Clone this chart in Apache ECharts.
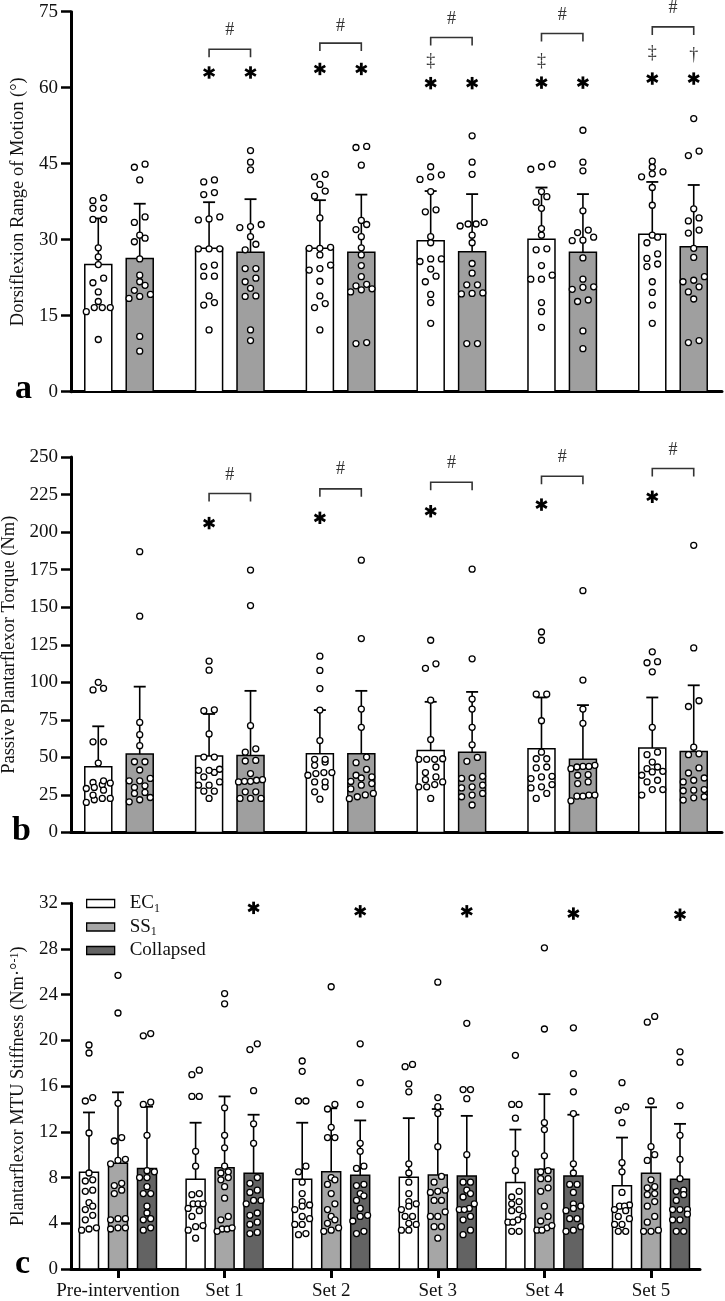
<!DOCTYPE html>
<html><head><meta charset="utf-8">
<script src="https://cdn.jsdelivr.net/npm/echarts@6/dist/echarts.min.js"></script>
<style>html,body{margin:0;padding:0;background:#fff}#c{width:725px;height:1301px}</style>
</head><body><div id="c"></div>
<script>
// ---------- DATA ----------
const categories = ['Pre-intervention','Set 1','Set 2','Set 3','Set 4','Set 5'];

// Panel a: Dorsiflexion range of motion (deg)
const romEC_mean = [25.1, 28.3, 28.3, 29.8, 30.1, 31.1];
const romEC_sd   = [9.1, 9.1, 9.5, 9.8, 10.2, 10.3];
const romSS_mean = [26.3, 27.5, 27.5, 27.6, 27.5, 28.6];
const romSS_sd   = [10.8, 10.5, 11.4, 11.4, 11.5, 12.2];
const romEC_pts = [
  [38.3,37.7,36.2,36.2,34.0,34.0,28.4,26.6,25.1,22.4,21.5,19.7,17.8,16.6,16.6,16.6,15.8,10.3],
  [41.4,41.8,38.9,39.3,33.9,34.1,34.5,28.2,28.2,28.2,24.7,25.0,22.8,22.8,18.9,17.6,17.1,12.2],
  [42.4,42.9,40.9,39.6,38.6,34.3,28.3,28.3,28.5,27.0,25.0,24.0,24.3,21.8,18.9,17.4,16.6,12.2],
  [44.4,41.9,42.4,42.8,39.5,35.5,35.9,30.6,29.4,25.7,26.2,26.2,24.2,22.8,21.7,19.2,17.6,13.5],
  [44.4,43.9,44.9,39.5,38.5,37.4,36.2,32.2,30.9,28.2,28.0,24.9,22.2,23.0,22.2,17.6,15.8,12.7],
  [44.3,45.5,43.4,43.0,42.4,40.3,36.8,30.9,30.5,29.4,27.2,26.3,24.7,25.2,21.7,19.6,17.1,13.5]
];
const romSS_pts = [
  [44.9,44.3,41.8,34.5,33.4,30.9,30.3,29.6,26.2,23.0,21.7,21.0,20.0,19.2,18.4,18.8,10.9,8.0],
  [47.6,45.3,43.8,32.4,32.6,33.0,30.6,29.1,28.0,22.4,24.3,24.3,21.7,20.4,18.8,18.9,12.2,10.1],
  [48.4,48.2,44.7,33.8,33.0,32.0,30.6,28.4,27.0,24.9,22.7,21.2,20.9,20.3,20.1,19.7,9.7,9.5],
  [50.5,45.3,42.9,33.1,33.4,32.7,33.1,30.9,29.4,25.3,23.4,21.1,21.1,19.4,19.3,19.5,9.5,9.5],
  [51.6,45.3,43.6,35.7,31.9,31.4,30.5,29.8,29.9,26.4,22.2,20.7,20.2,20.6,17.8,18.1,12.0,8.5],
  [53.9,47.5,46.6,36.1,34.3,31.9,33.7,31.3,28.3,26.5,22.7,22.0,21.7,20.7,19.7,18.3,9.7,10.1]
];
// annotations panel a (Set 1..Set 5)
const romBracketY = [67.6, 68.8, 69.9, 70.7, 72.0];
const romHashY    = [71.3, 72.2, 73.5, 74.3, 75.7];
const romStarEC   = [63.0, 63.7, 60.9, 61.0, 61.8];
const romStarSS   = [63.0, 63.7, 60.9, 61.0, 61.8];
const romDDaggerEC = [null, null, 65.3, 65.3, 66.8];
const romDaggerSS  = [null, null, null, null, 66.4];

// Panel b: Passive plantarflexor torque (Nm)
const tqEC_mean = [43.8, 50.9, 52.4, 54.6, 55.7, 56.2];
const tqEC_sd   = [26.9, 28.0, 29.1, 32.4, 34.2, 33.7];
const tqSS_mean = [52.2, 51.3, 52.4, 53.5, 48.7, 54.0];
const tqSS_sd   = [44.9, 43.0, 41.9, 40.1, 36.1, 44.0];
const tqEC_pts = [
  [100,94.9,96,60.4,60.4,46.2,31.8,33.3,34.4,32.9,30,28.2,29.3,21.8,24.9,22.7,22.7,20],
  [114.1,108.1,81.7,81.1,65.6,50.2,50.2,41.4,40.0,42.1,41.4,37.0,33.7,31.5,31.5,27.5,27.5,22.7],
  [117.4,107.9,95.8,81.5,61.2,48.7,44.7,46.9,48.7,39.2,39.9,38.1,39.9,33.7,30.4,33.7,27.1,22.2],
  [128,109.3,112.3,88.1,61.9,48.7,49.1,48.7,48.7,43.6,33.7,35.2,37,31.9,30.4,30.4,22.7,39.9],
  [133.5,128,92.1,92.1,74.4,53.5,49.1,49.1,43.6,43.0,37.0,37.4,35.9,29.7,31.9,30.4,22.7,26.0],
  [120.3,113.0,113.7,107.0,70.0,51.8,53.5,46.9,42.5,40.7,43.6,40.3,38.1,34.8,33.7,28.6,24.9,28.6]
];
const tqSS_pts = [
  [187,144,73.3,65.1,57.8,47.1,47.1,41.6,36,34.4,34.4,30,31.1,26.7,26,23.3,20.4,21.8],
  [174.7,151.1,71.1,55.7,53.5,48,47.6,39.2,34.1,33.7,34.1,34.8,35.2,27.1,27.1,22.7,22.7,22.7],
  [181.3,129.1,82.2,70.0,50.2,46.5,42.0,38.1,37.0,36.3,34.0,32.6,31.5,29.0,26.0,25.0,23.8,22.5],
  [175.3,115.6,88.8,82.2,70.0,58.4,50.0,47.4,36.0,36.3,37.4,30.4,31.5,29.7,24.9,23.8,18.3,26.0],
  [161,101.5,82.2,72.7,44.7,44,42.5,43.6,44,38.5,38.1,33.7,32.6,24.2,24.9,24.2,24.9,21.1],
  [191.2,122.9,87.7,83.9,56.8,51.8,52.4,43.0,39.6,36.3,34.8,33.7,27.8,28.2,28.6,21.6,23.1,23.8]
];
const tqBracketY = [225.7, 228.8, 233.2, 237.2, 242.3];
const tqHashY    = [238, 241.7, 246, 250, 254.5];
const tqStarEC   = [206, 209.5, 213.9, 218.3, 223.5];

// Panel c: Plantarflexor MTU stiffness (Nm/deg)
const stEC_mean  = [8.46, 7.85, 7.85, 8.02, 7.56, 7.29];
const stEC_sd    = [5.24, 4.95, 4.95, 5.18, 4.64, 4.21];
const stSS_mean  = [9.25, 8.87, 8.50, 8.23, 8.72, 8.37];
const stSS_sd    = [6.21, 6.23, 5.56, 5.77, 6.58, 5.78];
const stCol_mean = [8.80, 8.37, 8.20, 8.14, 8.14, 7.85];
const stCol_sd   = [5.40, 5.13, 4.80, 5.26, 5.36, 4.85];
const stEC_pts = [
  [19.6,18.9,15.0,14.7,11.9,8.4,7.8,7.7,6.8,6.9,5.8,5.5,5.2,4.7,4.3,3.4,3.6,3.5],
  [17.4,17.0,15.1,15.1,10.3,9.0,6.5,6.6,5.7,5.7,5.7,5.1,5.3,4.6,3.8,3.4,3.7,2.7],
  [18.2,17.3,14.7,14.7,9.0,8.5,7.6,6.6,5.9,5.6,5.5,5.2,4.6,4.4,3.9,3.9,3.0,3.1],
  [17.9,17.7,16.2,15.5,9.2,8.4,7.6,6.6,5.9,5.7,5.5,5.2,4.6,4.6,4.0,3.9,3.4,3.4],
  [18.7,14.4,14.4,13.2,10.1,8.6,6.8,6.3,5.9,5.7,5.2,5.1,4.6,4.3,4.1,4.1,3.3,3.3],
  [16.3,14.2,13.9,12.8,9.3,8.5,6.7,5.6,5.5,5.5,5.2,5.1,4.4,4.6,3.9,3.9,3.3,3.3]
];
const stSS_pts = [
  [25.7,22.4,14.5,11.5,11.2,9.5,9.6,9.2,7.5,7.3,6.6,6.9,4.4,4.4,4.3,3.5,3.6,3.6],
  [24.1,23.2,14.1,11.7,10.6,9.0,8.5,8.4,8.0,7.2,7.8,6.2,4.6,4.3,3.5,3.5,3.6,3.3],
  [24.7,14.4,14.0,12.4,11.5,11.5,8.0,7.8,7.4,6.6,5.7,5.2,4.6,4.3,3.3,3.6,3.4,4.0],
  [25.1,15.0,14.2,13.6,10.7,7.6,8.1,5.0,6.9,6.8,6.7,6.0,6.0,3.7,4.6,4.6,3.7,2.7],
  [28.1,21.0,12.8,12.2,9.9,8.5,8.6,7.9,7.9,7.1,6.8,5.5,4.6,4.2,3.4,3.6,3.4,3.8],
  [22.1,21.6,14.7,10.7,9.5,10.0,7.8,7.1,7.2,6.6,5.9,6.5,5.5,4.6,4.1,3.3,3.4,3.3]
];
const stCol_pts = [
  [20.4,20.6,14.4,14.6,11.7,8.6,8.5,8.0,8.0,7.2,6.6,6.6,5.5,4.9,4.3,4.4,3.4,3.6],
  [19.7,19.2,15.6,12.7,11.0,8.0,7.5,6.9,6.7,6.0,5.7,6.0,4.9,4.7,3.9,4.1,3.2,3.1],
  [19.7,16.3,14.4,11.0,10.3,9.0,8.8,7.4,7.3,6.6,6.4,6.0,5.3,4.7,4.6,4.2,3.1,3.3],
  [21.5,15.7,15.7,14.9,10.0,7.6,7.6,6.9,6.6,6.3,5.7,5.2,5.3,4.6,5.2,4.3,3.4,3.0],
  [21.1,17.1,15.5,13.6,9.2,8.4,7.4,7.4,6.7,5.5,5.7,5.3,5.1,4.4,4.4,3.7,3.3,3.4],
  [19.0,18.1,14.3,11.7,9.6,7.9,6.9,6.8,6.5,6.0,5.2,5.2,5.2,4.3,4.8,4.3,3.3,3.3]
];
const stStarCol = [31.6, 31.3, 31.3, 31.1, 31.0];

// ---------- LAYOUT / STYLE ----------
const FONT = '"Liberation Serif", "Times New Roman", serif';
const panels = [
  {grid:{left:71, right:3, top:11.7, height:380}, xmin:-0.4332, xmax:5.4422, ymax:75, step:15,
   name:'Dorsiflexion Range of Motion (°)', nameGap:35, barW:0.2437, S:10.7, W:24},
  {grid:{left:71, right:3, top:457, height:375.5}, xmin:-0.4332, xmax:5.4422, ymax:250, step:25,
   name:'Passive Plantarflexor Torque (Nm)', nameGap:52, barW:0.2437, S:10.5, W:24},
  {grid:{left:71, right:25, top:903.3, height:365.7}, xmin:-0.4409, xmax:5.4597, ymax:32, step:4,
   name:'Plantarflexor MTU Stiffness (Nm·°{sup|-1})', nameGap:40, barW:0.178, S:7.4, W:15}
];
panels.forEach(p => {
  p.grid.containLabel = false;
  p.grid.outerBoundsMode = 'none';
  p.gridW = 725 - p.grid.left - p.grid.right;
  p.pxX = p.gridW / (p.xmax - p.xmin);
  p.pxY = p.grid.height / p.ymax;
});

function swarm(vals, pxPerUnit, S, W, thr) {
  const idx = vals.map((v, i) => i).sort((a, b) => vals[a] - vals[b]);
  const off = new Array(vals.length).fill(0);
  let row = [], start = null;
  const flush = () => {
    const n = row.length;
    const sp = n > 1 ? Math.min(S, W / (n - 1)) : 0;
    row.forEach((k, j) => { off[k] = (j - (n - 1) / 2) * sp; });
    row = [];
  };
  for (const k of idx) {
    if (start === null || (vals[k] - start) * pxPerUnit >= thr) { flush(); start = vals[k]; }
    row.push(k);
  }
  flush();
  return off;
}

function barRender(w) {
  return function (params, api) {
    const x = api.value(0), y = api.value(1);
    const a = api.coord([x - w / 2, y]);
    const b = api.coord([x + w / 2, 0]);
    return {type:'rect', shape:{x:a[0], y:a[1], width:b[0]-a[0], height:b[1]-a[1]},
      style:{fill: api.visual('color'), stroke:'#000', lineWidth:1.5}};
  };
}
function errRender(params, api) {
  const x = api.value(0), m = api.value(1), s = api.value(2);
  const p0 = api.coord([x, m]), p1 = api.coord([x, m + s]);
  return {type:'group', children:[
    {type:'line', shape:{x1:p0[0], y1:p0[1], x2:p1[0], y2:p1[1]}, style:{stroke:'#000', lineWidth:1.6}},
    {type:'line', shape:{x1:p1[0]-6, y1:p1[1], x2:p1[0]+6, y2:p1[1]}, style:{stroke:'#000', lineWidth:1.8}}
  ]};
}
function starRender(params, api) {
  const p = api.coord([api.value(0), api.value(1)]);
  const r = 6.2, ch = [];
  [90, 30, 150].forEach(a => {
    const rad = a * Math.PI / 180, dx = Math.cos(rad) * r, dy = Math.sin(rad) * r;
    ch.push({type:'line', shape:{x1:p[0]-dx, y1:p[1]-dy, x2:p[0]+dx, y2:p[1]+dy}, style:{stroke:'#000', lineWidth:2.8}});
  });
  return {type:'group', children:ch};
}
function textRender(str, size, color) {
  return function (params, api) {
    const p = api.coord([api.value(0), api.value(1)]);
    return {type:'text', x:p[0], y:p[1], style:{text:str, font: size + 'px ' + FONT, fill:color, align:'center', verticalAlign:'middle'}};
  };
}
function bracketRender(params, api) {
  const a = api.coord([api.value(0), api.value(2)]), b = api.coord([api.value(1), api.value(2)]);
  return {type:'polyline', shape:{points:[[a[0], a[1]+8], [a[0], a[1]], [b[0], b[1]], [b[0], b[1]+8]]},
    style:{stroke:'#333', lineWidth:1.6, fill:null}};
}

const series = [];
function addGroups(pi, groups) {
  const p = panels[pi];
  groups.forEach(g => {
    series.push({type:'custom', name:g.name, xAxisIndex:pi, yAxisIndex:pi, z:2,
      itemStyle:{color:g.color}, renderItem:barRender(p.barW),
      data:g.mean.map((m, i) => [i + g.off, m])});
    series.push({type:'custom', name:g.name + '-err', xAxisIndex:pi, yAxisIndex:pi, z:3,
      renderItem:errRender, data:g.mean.map((m, i) => [i + g.off, m, g.sd[i]])});
    const dots = [];
    g.pts.forEach((vals, i) => {
      const off = swarm(vals, p.pxY, p.S, p.W, 6);
      vals.forEach((v, k) => dots.push([i + g.off + off[k] / p.pxX, v]));
    });
    series.push({type:'scatter', name:g.name + '-pts', xAxisIndex:pi, yAxisIndex:pi, z:5,
      symbol:'circle', symbolSize:6, silent:true,
      itemStyle:{color:'#fff', borderColor:'#000', borderWidth:1.3, opacity:1}, data:dots});
  });
}
function addAnn(pi, render, pts) {
  series.push({type:'custom', xAxisIndex:pi, yAxisIndex:pi, z:6, renderItem:render, clip:false,
    data:pts.filter(d => d[d.length - 1] !== null && d[d.length - 1] !== undefined)});
}

const OFF2 = 0.187, OFF3 = 0.272;
addGroups(0, [
  {name:'a-EC', color:'#ffffff', mean:romEC_mean, sd:romEC_sd, pts:romEC_pts, off:-OFF2},
  {name:'a-SS', color:'#9f9f9f', mean:romSS_mean, sd:romSS_sd, pts:romSS_pts, off:OFF2}
]);
addGroups(1, [
  {name:'b-EC', color:'#ffffff', mean:tqEC_mean, sd:tqEC_sd, pts:tqEC_pts, off:-OFF2},
  {name:'b-SS', color:'#9f9f9f', mean:tqSS_mean, sd:tqSS_sd, pts:tqSS_pts, off:OFF2}
]);
addGroups(2, [
  {name:'EC', color:'#ffffff', mean:stEC_mean, sd:stEC_sd, pts:stEC_pts, off:-OFF3},
  {name:'SS', color:'#a6a6a6', mean:stSS_mean, sd:stSS_sd, pts:stSS_pts, off:0},
  {name:'Collapsed', color:'#636363', mean:stCol_mean, sd:stCol_sd, pts:stCol_pts, off:OFF3}
]);

// annotations (Set 1..Set 5 -> category 1..5)
const setIdx = [1,2,3,4,5];
addAnn(0, bracketRender, setIdx.map((c, j) => [c - OFF2, c + OFF2, romBracketY[j]]));
addAnn(0, textRender('#', 18, '#333'), setIdx.map((c, j) => [c, romHashY[j]]));
addAnn(0, starRender, setIdx.map((c, j) => [c - OFF2, romStarEC[j]]));
addAnn(0, starRender, setIdx.map((c, j) => [c + OFF2, romStarSS[j]]));
addAnn(0, textRender('‡', 18, '#333'), setIdx.map((c, j) => [c - OFF2, romDDaggerEC[j]]));
addAnn(0, textRender('†', 18, '#333'), setIdx.map((c, j) => [c + OFF2, romDaggerSS[j]]));
addAnn(1, bracketRender, setIdx.map((c, j) => [c - OFF2, c + OFF2, tqBracketY[j]]));
addAnn(1, textRender('#', 18, '#333'), setIdx.map((c, j) => [c, tqHashY[j]]));
addAnn(1, starRender, setIdx.map((c, j) => [c - OFF2, tqStarEC[j]]));
addAnn(2, starRender, setIdx.map((c, j) => [c + OFF3, stStarCol[j]]));

const axisLineStyle = {show:true, onZero:false, lineStyle:{color:'#000', width:3}};
const option = {
  animation:false,
  backgroundColor:'#fff',
  grid: panels.map(p => p.grid),
  xAxis: panels.map((p, i) => ({
    type:'value', gridIndex:i, min:p.xmin, max:p.xmax,
    axisLine:axisLineStyle, splitLine:{show:false},
    axisTick: i === 2 ? {show:true, customValues:[0,1,2,3,4,5], length:9, lineStyle:{color:'#000', width:3}} : {show:false},
    axisLabel: i === 2 ? {show:true, customValues:[0,1,2,3,4,5], formatter:v => categories[Math.round(v)],
      margin:13, fontSize:19, fontFamily:FONT, color:'#111'} : {show:false}
  })),
  yAxis: panels.map((p, i) => ({
    type:'value', gridIndex:i, min:0, max:p.ymax, interval:p.step,
    axisLine:axisLineStyle, splitLine:{show:false},
    axisTick:{show:true, length:10, lineStyle:{color:'#000', width:2.5}},
    axisLabel:{fontSize:19, fontFamily:FONT, color:'#111', margin:13},
    name:p.name, nameLocation:'middle', nameGap:p.nameGap, nameRotate:90,
    nameTextStyle:{fontSize:18.5, fontFamily:FONT, color:'#111',
      rich:{sup:{fontSize:12, fontFamily:FONT, color:'#111', verticalAlign:'top', padding:[0,0,8,0]}}}
  })),
  legend:{
    data:['EC','SS','Collapsed'], orient:'vertical', left:81, top:889, icon:'rect',
    itemWidth:28, itemHeight:8, itemGap:3,
    itemStyle:{borderColor:'#000', borderWidth:1.3},
    formatter: n => n === 'Collapsed' ? '{n|Collapsed}' : '{n|' + n + '}{s|1}',
    textStyle:{fontFamily:FONT, fontSize:19, color:'#111',
      rich:{n:{fontFamily:FONT, fontSize:19, color:'#111', padding:[0,0,0,10], lineHeight:22},
            s:{fontFamily:FONT, fontSize:12, color:'#111', verticalAlign:'bottom', padding:[7,0,0,0], lineHeight:14}}}
  },
  graphic:[
    {type:'text', x:15, y:406, style:{text:'a', font:'bold 34px ' + FONT, fill:'#000', verticalAlign:'bottom'}},
    {type:'text', x:12, y:848, style:{text:'b', font:'bold 34px ' + FONT, fill:'#000', verticalAlign:'bottom'}},
    {type:'text', x:15, y:1281, style:{text:'c', font:'bold 34px ' + FONT, fill:'#000', verticalAlign:'bottom'}}
  ],
  series: series
};
const chart = echarts.init(document.getElementById('c'), null, {renderer:'canvas'});
chart.setOption(option);
</script>
</body></html>
